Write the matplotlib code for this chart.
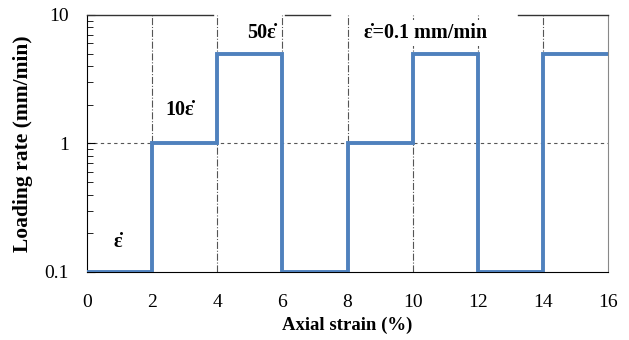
import numpy as np
import matplotlib.pyplot as plt

plt.rcParams['font.family'] = ['Liberation Serif', 'DejaVu Serif']

# loading steps: start/end strain (%) and rate (mm/min)
strain_edges = [0, 2, 4, 6, 8, 10, 12, 14, 16]
rates = [0.1, 1, 5, 0.1, 1, 5, 0.1, 5]

xs = []
ys = []
for i, r in enumerate(rates):
    xs += [strain_edges[i], strain_edges[i + 1]]
    ys += [r, r]

fig = plt.figure(figsize=(6.29, 3.4), dpi=100)
ax = fig.add_axes([0.138, 0.2, 0.829, 0.756])

ax.set_yscale('log')
ax.set_xlim(0, 16)
ax.set_ylim(0.1, 10)

# grid
for xv in strain_edges[1:-1]:
    ax.axvline(xv, color='#555555', lw=0.8, ls='-.', zorder=1)
ax.axhline(1, color='#555555', lw=0.8, ls=(0, (3, 3)), zorder=1)

ax.plot(xs, ys, color='#4f81bd', lw=2.8, zorder=3, solid_joinstyle='miter')

# spines
ax.spines['top'].set_visible(False)
ax.spines['right'].set_color('#888888')
for s in ['left', 'bottom']:
    ax.spines[s].set_color('black')
# broken top border (labels sit over it)
ax.plot([0, 3.87], [10, 10], color='#333333', lw=1.0, clip_on=False, zorder=4)
ax.plot([6.08, 7.46], [10, 10], color='#333333', lw=1.0, clip_on=False, zorder=4)
ax.plot([13.24, 16], [10, 10], color='#333333', lw=1.0, clip_on=False, zorder=4)

ax.set_xticks(range(0, 17, 2))
ax.set_yticks([0.1, 1, 10])
ax.set_yticklabels(['0.1', '1', '10'])
ax.tick_params(axis='x', length=0, labelsize=14, pad=16)
ax.tick_params(axis='y', which='major', direction='in', length=6, labelsize=14, pad=13)
ax.tick_params(axis='y', which='minor', direction='in', length=4)
ax.tick_params(axis='x', which='minor', length=0)

ax.set_xlabel('Axial strain (%)', fontsize=13.5, fontweight='bold', labelpad=4)
ax.set_ylabel('Loading rate (mm/min)', fontsize=15.5, fontweight='bold', labelpad=8)

eps = 'ε\u0307'
bb = dict(facecolor='white', edgecolor='none', pad=2)
ax.text(0.95, 0.17, eps, fontsize=14.5, fontweight='bold', ha='center', va='center', zorder=5)
ax.text(2.86, 1.82, '10' + eps, fontsize=14.5, fontweight='bold', ha='center', va='center', bbox=bb, zorder=5)
ax.text(5.37, 7.2, '50' + eps, fontsize=14.5, fontweight='bold', ha='center', va='center', bbox=bb, zorder=5)
ax.text(10.38, 7.2, eps + '=0.1 mm/min', fontsize=14.5, fontweight='bold', ha='center', va='center', bbox=bb, zorder=5)

fig.savefig('out.png', dpi=100)
